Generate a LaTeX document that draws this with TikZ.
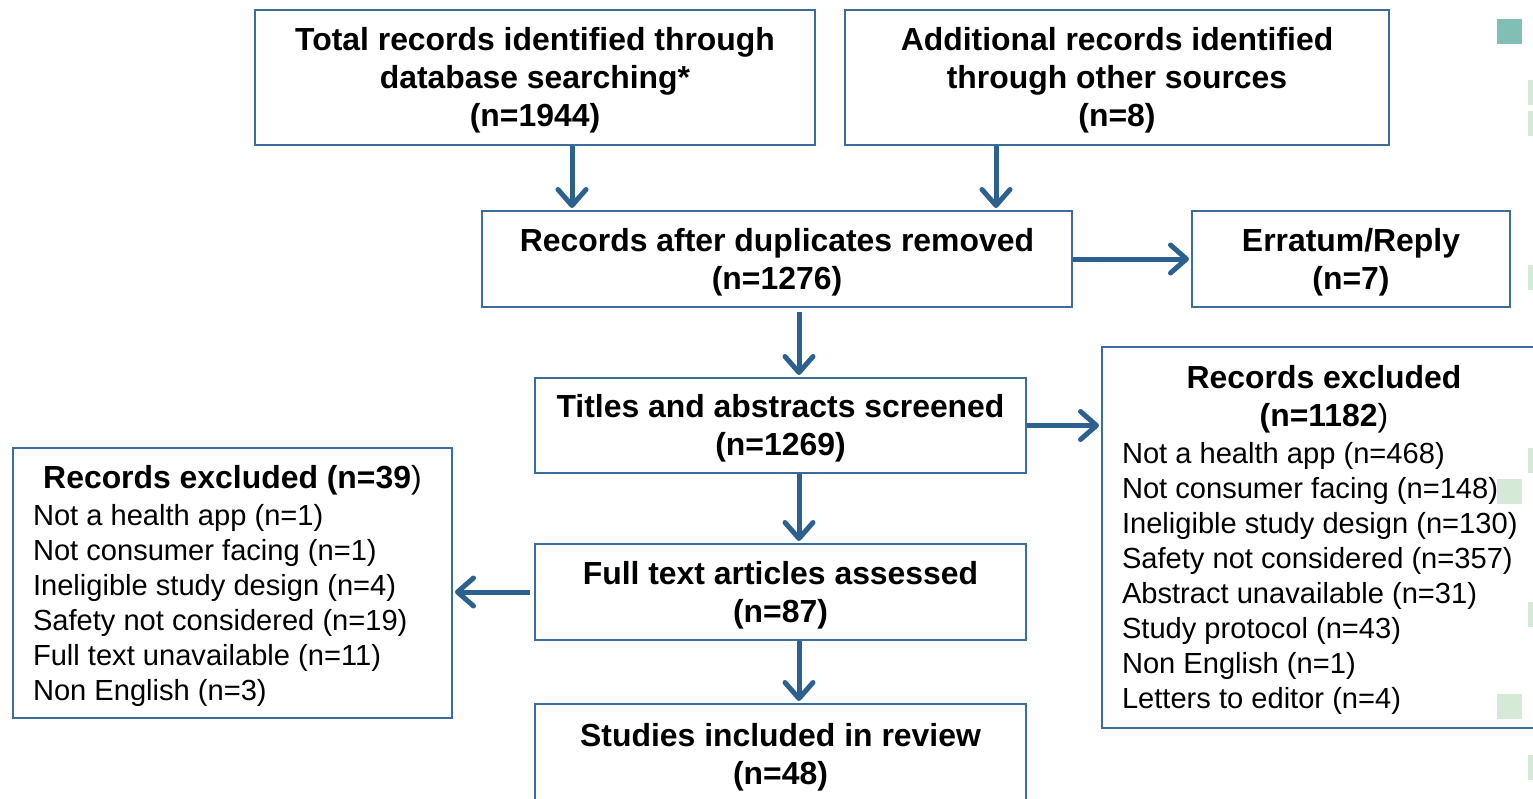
\documentclass[tikz,border=0pt]{standalone}
\usepackage{fontspec}
\setmainfont{Liberation Sans}
\usetikzlibrary{arrows.meta, calc}
\definecolor{boxblue}{RGB}{58,108,158}
\definecolor{arrowblue}{RGB}{44,96,143}
\definecolor{tealmark}{RGB}{127,191,180}
\definecolor{greenmark}{RGB}{212,234,214}
\tikzset{
  stage box/.style={draw=boxblue, line width=2pt, inner sep=0pt, anchor=north west, text width=#1, align=flush center, font=\bfseries\fontsize{31.9}{38}\selectfont, execute at begin node={\rule{0pt}{0.9em}}},
  exclusion box/.style={draw=boxblue, line width=2pt, inner xsep=20pt, inner ysep=0pt, anchor=north west, align=flush left, font=\fontsize{29.1}{35}\selectfont},
  flow arrow/.style={->, line width=5pt, arrowblue, shorten >=2pt},
  corner mark/.style={fill=greenmark},
  >={Straight Barb[length=16pt, width=28pt, round]},
}
\newcommand{\exclTitle}[1]{{\centering\bfseries\fontsize{31.9}{38}\selectfont\rule{0pt}{0.9em}#1\par}\vspace{2pt}}

\begin{document}
\begin{tikzpicture}[x=1pt, y=-1pt]
  \useasboundingbox (0,0) rectangle (1533,798);
  \node[stage box=560pt, minimum height=135pt] (total) at (254,9) {Total records identified through\\database searching*\\(n=1944)};
  \node[stage box=544pt, minimum height=135pt] (other) at (844,9) {Additional records identified\\through other sources\\(n=8)};
  \node[stage box=590pt, minimum height=96pt] (dedup) at (481,210) {Records after duplicates removed\\(n=1276)};
  \node[stage box=318pt, minimum height=96pt] (erratum) at (1191,210) {Erratum/Reply\\(n=7)};
  \node[stage box=491pt, minimum height=95pt] (screened) at (534,377) {Titles and abstracts screened\\(n=1269)};
  \node[stage box=491pt, minimum height=96pt] (fulltext) at (534,543) {Full text articles assessed\\(n=87)};
  \node[stage box=491pt, minimum height=100pt] (included) at (534,703) {Studies included in review\\(n=48)};
  \node[exclusion box, text width=404pt, minimum height=381pt] (exclRecords) at (1101,346) {\exclTitle{Records excluded\\(n=1182\textmd{)}}Not a health app (n=468)\\Not consumer facing (n=148)\\Ineligible study design (n=130)\\Safety not considered (n=357)\\Abstract unavailable (n=31)\\Study protocol (n=43)\\Non English (n=1)\\Letters to editor (n=4)};
  \node[exclusion box, text width=399pt, minimum height=270pt] (exclFull) at (12,447) {\exclTitle{Records excluded (n=39\textmd{)}}Not a health app (n=1)\\Not consumer facing (n=1)\\Ineligible study design (n=4)\\Safety not considered (n=19)\\Full text unavailable (n=11)\\Non English (n=3)};

  \draw[flow arrow] ([xshift=37pt]total.south) -- ([xshift=37pt]total.south |- dedup.north);
  \draw[flow arrow] ([xshift=-121pt]other.south) -- ([xshift=-121pt]other.south |- dedup.north);
  \draw[flow arrow] (dedup.east) -- (erratum.west);
  \draw[flow arrow, shorten <=4pt] ([xshift=22pt]dedup.south) -- ([xshift=22pt]dedup.south |- screened.north);
  \draw[flow arrow] (screened.east) -- (screened.east -| exclRecords.west);
  \draw[flow arrow] ([xshift=18.5pt]screened.south) -- ([xshift=18.5pt]screened.south |- fulltext.north);
  \draw[flow arrow, shorten <=4pt] (fulltext.west) -- (fulltext.west -| exclFull.east);
  \draw[flow arrow] ([xshift=18.5pt]fulltext.south) -- ([xshift=18.5pt]fulltext.south |- included.north);

  \fill[tealmark] (1497,19) rectangle (1522,44);
  \fill[corner mark] (1497,479) rectangle (1522,504);
  \fill[corner mark] (1497,694) rectangle (1522,719);
  \foreach \y in {80,111,265,448,602,755}
    \fill[corner mark] (1528,\y) rectangle (1533,\y+25);
\end{tikzpicture}
\end{document}
